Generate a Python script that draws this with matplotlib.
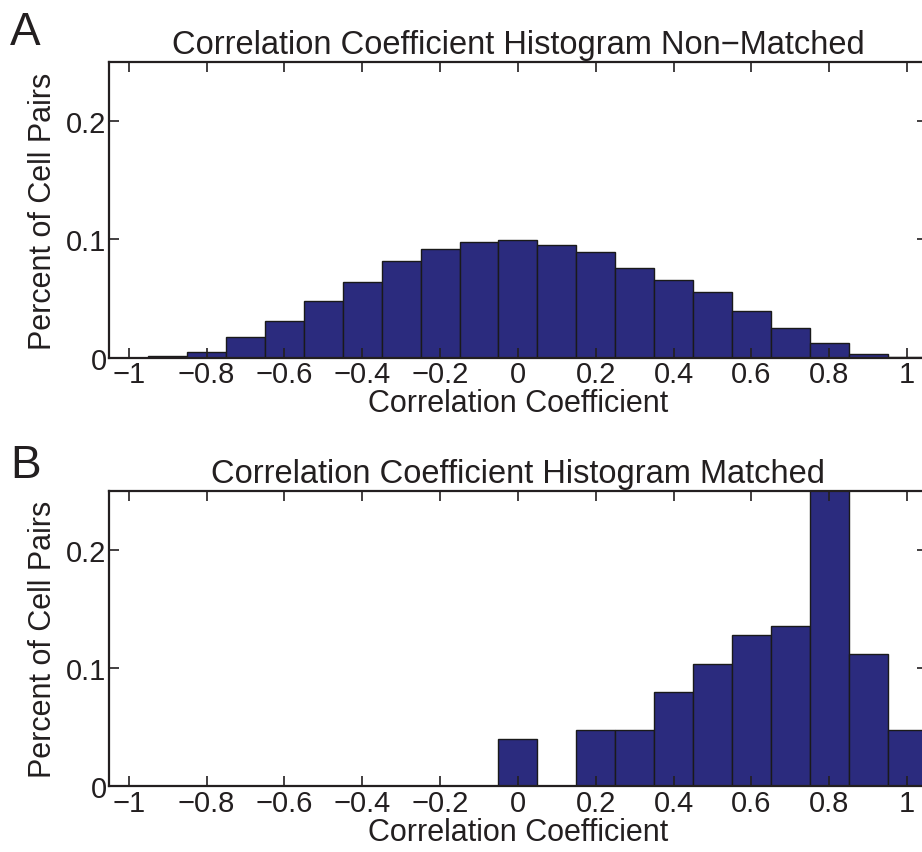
import matplotlib

matplotlib.use("Agg")
import matplotlib.pyplot as plt
import numpy as np
from matplotlib.ticker import FuncFormatter

# bin centers of the MATLAB-style histogram
centers = np.round(np.arange(-1.0, 1.01, 0.1), 2)

non_matched = [0.0, 0.001, 0.005, 0.017, 0.031, 0.048, 0.064, 0.082, 0.092, 0.098, 0.0995,
               0.095, 0.089, 0.076, 0.066, 0.0555, 0.039, 0.025, 0.012, 0.003, 0.0005]
matched = [0, 0, 0, 0, 0, 0, 0, 0, 0, 0, 0.04,
           0, 0.048, 0.048, 0.080, 0.104, 0.128, 0.136, 0.256, 0.112, 0.048]

titles = ["Correlation Coefficient Histogram Non\u2212Matched", "Correlation Coefficient Histogram Matched"]
letters = ["A", "B"]

plt.rcParams["font.family"] = ["Liberation Sans", "DejaVu Sans"]
text_color = "#231f20"
bar_color = "#2b2b7e"

fig = plt.figure(figsize=(9.22, 8.53), dpi=100)
W, H = 922, 853


def fmt(v, _):
    v = round(v, 2) + 0.0
    if v == 0:
        return "0"
    return ("%g" % v).replace("-", "\u2212")


for i, (vals, title, letter) in enumerate(zip([non_matched, matched], titles, letters)):
    top = [63.3, 492.3][i]
    bottom = [358.5, 787.3][i]
    ax = fig.add_axes([109.3 / W, 1 - bottom / H, (926.5 - 109.3) / W, (bottom - top) / H])
    ax.bar(centers, vals, width=0.1, color=bar_color, edgecolor="#1a1a1a", linewidth=1.0)
    ax.set_xlim(-1.05, 1.05)
    ax.set_ylim(0, 0.25)
    ax.set_xticks(np.round(np.arange(-1.0, 1.01, 0.2), 2))
    ax.set_yticks([0, 0.1, 0.2])
    ax.xaxis.set_major_formatter(FuncFormatter(fmt))
    ax.yaxis.set_major_formatter(FuncFormatter(fmt))
    ax.tick_params(direction="in", length=7, width=1.2, top=True, right=True, labelsize=21,
                   colors=text_color, pad=2)
    for s in ax.spines.values():
        s.set_linewidth(1.6)
        s.set_color(text_color)
    ax.set_title(title, fontsize=23.5, color=text_color, pad=7)
    ax.set_xlabel("Correlation Coefficient", fontsize=22, color=text_color, labelpad=0)
    ax.set_ylabel("Percent of Cell Pairs", fontsize=22, color=text_color, labelpad=6)
    fig.text(10 / W, 1 - [45, 478][i] / H, letter, fontsize=33, color=text_color, va="baseline")

fig.savefig("out.png", dpi=100)
